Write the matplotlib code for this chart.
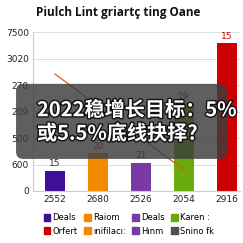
import matplotlib.pyplot as plt
import matplotlib.patheffects as pe
from matplotlib.patches import FancyBboxPatch, Patch
import numpy as np

title = 'Piulch Lint griartç ting Oane'
categories = ['2552', '2680', '2526', '2054', '2916']
values = [950, 1790, 1320, 4150, 6980]
bar_labels = ['15', '20', '21', '19', '15']
bar_colors = ['#3f0f9c', '#f28a00', '#7a3aa6', '#6aab0c', '#cc0000']
label_colors = ['#333333', '#7a3d00', '#333333', '#333333', '#cc0000']
line_x = [0, 3]
line_y = [5520, 990]
yticks = [0, 1250, 2500, 3750, 5000, 6250, 7500]
ytick_labels = ['0', '600', '500', '209', '270', '3020', '7500']
legend_names = ['Deals', 'Orfert', 'Raiom', 'ınifilacı:', 'Deals', 'Hınm', 'Karen :', 'Snino fk']
legend_colors = ['#3f0f9c', '#cc0000', '#f28a00', '#f28a00', '#7a3aa6', '#7a3aa6', '#6aab0c', '#5a4a60']
overlay = '2022稳增长目标：5%\n或5.5%底线抉择?'

plt.rcParams['font.family'] = ['DejaVu Sans']

fig = plt.figure(figsize=(2.43, 2.43), dpi=100)
ax = fig.add_axes([0.136, 0.214, 0.852, 0.654])

x = np.arange(len(categories))
ax.bar(x, values, width=0.47, color=bar_colors, zorder=2)
for xi, v, lab, c in zip(x, values, bar_labels, label_colors):
    ax.text(xi, v + 120, lab, ha='center', va='bottom', fontsize=6.5, color=c)
ax.plot(line_x, line_y, color='#e8541c', linewidth=0.9, zorder=3)

ax.set_xlim(-0.51, 4.3)
ax.set_ylim(0, 7500)
ax.set_xticks(x)
ax.set_xticklabels(categories, fontsize=6.5)
ax.set_yticks(yticks)
ax.set_yticklabels(ytick_labels, fontsize=6.5)
ax.tick_params(length=0, pad=3, colors='#222222')
ax.grid(axis='y', color='#dddddd', linewidth=0.7, zorder=0)
for s in ['top', 'right']:
    ax.spines[s].set_visible(False)
ax.spines['left'].set_color('#cccccc')
ax.spines['bottom'].set_color('#cccccc')

fig.text(0.486, 0.948, title, ha='center', va='center', fontsize=8.5,
         fontweight='bold', family='Open Sans', color='#111111')

handles = [Patch(color=c) for c in legend_colors]
fig.legend(handles, legend_names, loc='lower center', bbox_to_anchor=(0.53, 0.0),
           ncol=4, fontsize=6, frameon=False, handlelength=0.8, handleheight=0.8,
           handletextpad=0.25, columnspacing=0.8, labelspacing=0.5)

box = FancyBboxPatch((0.066 + 0.03, 0.346 + 0.03), 0.868 - 0.06, 0.309 - 0.06,
                     boxstyle='round,pad=0.03', transform=fig.transFigure,
                     facecolor='#3c3c3c', edgecolor='none', alpha=0.82, zorder=10)
fig.patches.append(box)
fig.text(0.152, 0.5, overlay, ha='left', va='center', fontsize=14.5,
         fontweight='bold', color='white', linespacing=1.15,
         family=['Noto Sans CJK SC', 'DejaVu Sans'], zorder=11,
         path_effects=[pe.withStroke(linewidth=2, foreground='#111111')])

fig.savefig('out.png', dpi=100)
